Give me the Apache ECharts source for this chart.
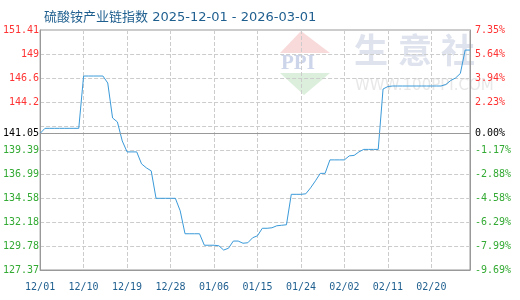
<!DOCTYPE html>
<html>
<head>
<meta charset="utf-8">
<script src="https://cdn.jsdelivr.net/npm/echarts@6/dist/echarts.min.js"></script>
<style>html,body{margin:0;padding:0;background:#fff;}#c{width:520px;height:300px;}</style>
</head>
<body>
<div id="c"></div>
<script>
const titleText = '硫酸铵产业链指数 2025-12-01 - 2026-03-01';
const startDate = [2025, 12, 1];
const dayCount = 90;
const baseValue = 141.05;
const baseLabelLeft = '141.05';
const baseLabelRight = '0.00%';
const values = [
  141.05,
  141.56, 141.56, 141.56, 141.56, 141.56, 141.56, 141.56, 141.56,
  146.8, 146.8, 146.8, 146.8, 146.8,
  146.1, 142.6, 142.2, 140.3, 139.2, 139.2, 139.2, 138.0, 137.6, 137.3,
  134.55, 134.55, 134.55, 134.55, 134.55,
  133.3,
  131.0, 131.0, 131.0, 131.0,
  129.85, 129.85, 129.85, 129.8,
  129.37, 129.55, 130.27, 130.27, 130.05, 130.1, 130.6, 130.8, 131.55, 131.55,
  131.6, 131.8, 131.85, 131.9, 134.95, 134.95, 134.95, 135.0, 135.6, 136.3,
  137.05, 137.05,
  138.4, 138.4, 138.4, 138.4,
  138.8, 138.85, 139.2,
  139.45, 139.45, 139.45, 139.45,
  145.5, 145.75,
  145.8, 145.8, 145.8, 145.8, 145.8, 145.8, 145.8, 145.8, 145.8, 145.8, 145.8,
  145.95, 146.35, 146.6, 147.05, 149.4, 149.4
];
const yMin = 127.37;
const yMax = 151.41;
const yStep = 2.404;
const leftTickLabels = ['127.37', '129.78', '132.18', '134.58', '136.99', '139.39', '', '144.2', '146.6', '149', '151.41'];
const rightTickLabels = ['-9.69%', '-7.99%', '-6.29%', '-4.58%', '-2.88%', '-1.17%', '', '2.23%', '3.94%', '5.64%', '7.35%'];

const categories = [];
{
  const d = new Date(startDate[0], startDate[1] - 1, startDate[2]);
  for (let i = 0; i < dayCount; i++) {
    const mm = String(d.getMonth() + 1).padStart(2, '0');
    const dd = String(d.getDate()).padStart(2, '0');
    categories.push(mm + '/' + dd);
    d.setDate(d.getDate() + 1);
  }
}

const RED = '#ff3333', GREEN = '#33aa33';
const MONO = 'DejaVu Sans Mono';
function labelColor(i) { return i > 6 ? RED : (i < 6 ? GREEN : '#000'); }
function tickIndex(v) { return Math.round((v - yMin) / yStep); }

const chart = echarts.init(document.getElementById('c'), null, {renderer: 'canvas'});
chart.setOption({
  animation: false,
  backgroundColor: '#fff',
  title: {
    text: titleText, left: 39, top: 6,
    textStyle: {fontFamily: 'DejaVu Sans, Noto Sans CJK SC', fontSize: 13, fontWeight: 'normal', color: '#1f5f8f'}
  },
  graphic: [
    {type: 'polygon', z: -10, shape: {points: [[301, 31], [280, 53], [330, 53]]}, style: {fill: '#f9dada'}},
    {type: 'polygon', z: -10, shape: {points: [[280, 73], [330, 73], [304, 95]]}, style: {fill: '#dcefdc'}},
    {type: 'text', z: -10, left: 281, top: 53, style: {text: 'PPI', fill: '#cdd5ea', font: 'bold 21px Liberation Serif'}},
    {type: 'text', z: -10, left: 354, top: 33, style: {text: '生', fill: '#dfe3ee', font: 'bold 34px Noto Sans CJK SC'}},
    {type: 'text', z: -10, left: 398, top: 33, style: {text: '意', fill: '#dfe3ee', font: 'bold 34px Noto Sans CJK SC'}},
    {type: 'text', z: -10, left: 441, top: 33, style: {text: '社', fill: '#dfe3ee', font: 'bold 34px Noto Sans CJK SC'}},
    {type: 'text', z: -10, left: 355, top: 79, style: {text: 'WWW.100PPI.COM', fill: '#e8e8e8', font: '15px DejaVu Sans'}}
  ],
  grid: {left: 40, right: 50, top: 30, bottom: 30, show: true, borderColor: '#999', borderWidth: 1, backgroundColor: 'transparent'},
  xAxis: {
    type: 'category', data: categories, boundaryGap: false,
    axisLine: {show: true, lineStyle: {color: '#999'}},
    axisTick: {show: false},
    axisLabel: {interval: 8, margin: 12, fontFamily: MONO, fontSize: 10, color: '#1f5f8f'},
    splitLine: {show: true, interval: 8, lineStyle: {color: '#ccc', type: 'dashed'}}
  },
  yAxis: [
    {
      type: 'value', min: yMin, max: yMax, interval: yStep, position: 'left',
      axisLine: {show: true, lineStyle: {color: '#999'}},
      axisTick: {show: false},
      axisLabel: {
        margin: 1, fontFamily: MONO, fontSize: 10,
        formatter: function (v) { return leftTickLabels[tickIndex(v)] || ''; },
        color: function (v) { return labelColor(tickIndex(v)); }
      },
      splitLine: {show: true, lineStyle: {color: '#ccc', type: 'dashed'}}
    },
    {
      type: 'value', min: yMin, max: yMax, interval: yStep, position: 'right',
      axisLine: {show: true, lineStyle: {color: '#999'}},
      axisTick: {show: false},
      axisLabel: {
        margin: 5, fontFamily: MONO, fontSize: 10,
        formatter: function (v) { return rightTickLabels[tickIndex(v)] || ''; },
        color: function (v) { return labelColor(tickIndex(v)); }
      },
      splitLine: {show: false}
    }
  ],
  series: [{
    type: 'line', data: values, yAxisIndex: 0, showSymbol: false, smooth: false,
    lineStyle: {color: '#3a9ad9', width: 1},
    markLine: {
      silent: true, symbol: 'none', animation: false,
      lineStyle: {color: '#999', type: 'solid', width: 1},
      data: [
        {yAxis: baseValue, label: {show: true, position: 'start', distance: 1, formatter: baseLabelLeft, color: '#000', fontFamily: MONO, fontSize: 10}},
        {yAxis: baseValue, label: {show: true, position: 'end', distance: 5, formatter: baseLabelRight, color: '#000', fontFamily: MONO, fontSize: 10}}
      ]
    }
  }]
});
</script>
</body>
</html>
